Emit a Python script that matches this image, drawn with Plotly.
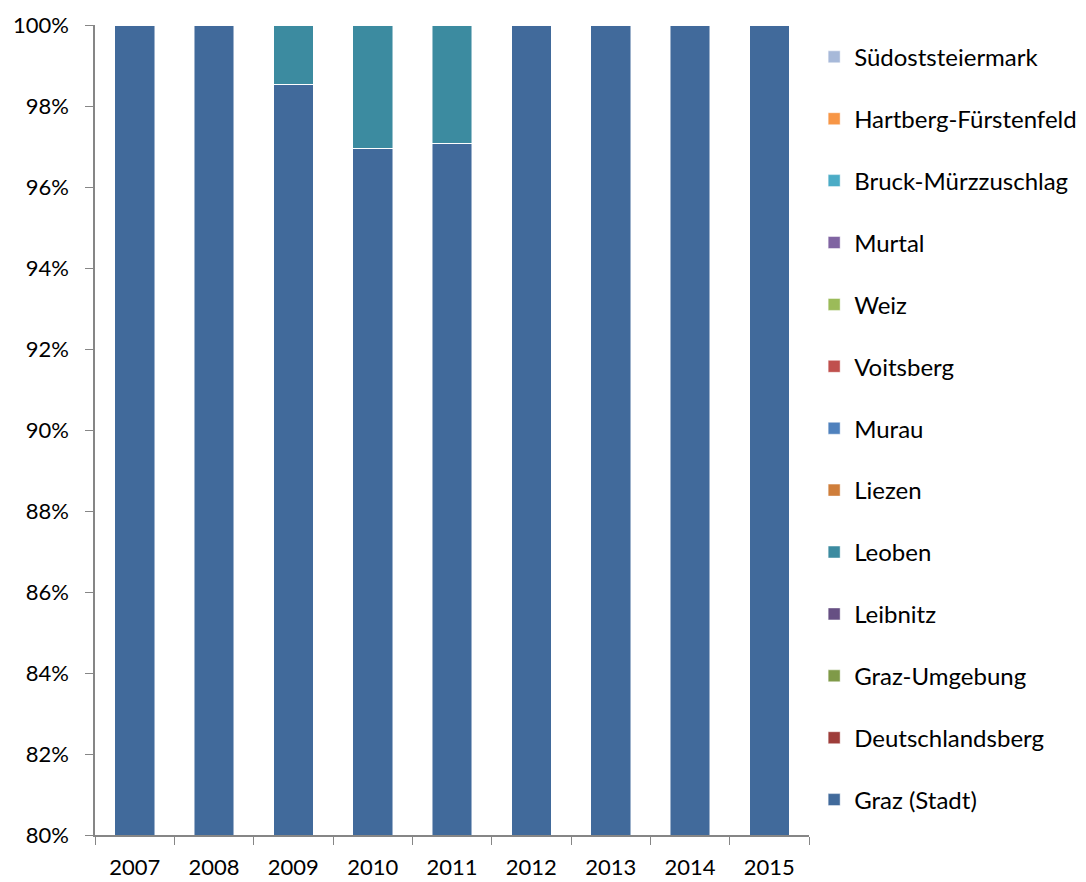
import plotly.graph_objects as go

years = ["2007", "2008", "2009", "2010", "2011", "2012", "2013", "2014", "2015"]

# series listed from bottom of stack to top
series_names = [
    "Graz (Stadt)", "Deutschlandsberg", "Graz-Umgebung", "Leibnitz", "Leoben",
    "Liezen", "Murau", "Voitsberg", "Weiz", "Murtal", "Bruck-Mürzzuschlag",
    "Hartberg-Fürstenfeld", "Südoststeiermark",
]
series_colors = [
    "#416A9B", "#9E3D3A", "#7F9A48", "#664F83", "#3C8BA0",
    "#CF7E3B", "#4F81BD", "#C0504D", "#9BBB59", "#8064A2", "#4BACC6",
    "#F79646", "#A7B9D9",
]

graz_stadt = [100, 100, 98.54, 96.96, 97.08, 100, 100, 100, 100]
deutschlandsberg = [0, 0, 0, 0, 0, 0, 0, 0, 0]
graz_umgebung = [0, 0, 0, 0, 0, 0, 0, 0, 0]
leibnitz = [0, 0, 0, 0, 0, 0, 0, 0, 0]
leoben = [0, 0, 1.46, 3.04, 2.92, 0, 0, 0, 0]
liezen = [0, 0, 0, 0, 0, 0, 0, 0, 0]
murau = [0, 0, 0, 0, 0, 0, 0, 0, 0]
voitsberg = [0, 0, 0, 0, 0, 0, 0, 0, 0]
weiz = [0, 0, 0, 0, 0, 0, 0, 0, 0]
murtal = [0, 0, 0, 0, 0, 0, 0, 0, 0]
bruck = [0, 0, 0, 0, 0, 0, 0, 0, 0]
hartberg = [0, 0, 0, 0, 0, 0, 0, 0, 0]
suedost = [0, 0, 0, 0, 0, 0, 0, 0, 0]

series_values = [graz_stadt, deutschlandsberg, graz_umgebung, leibnitz, leoben,
                 liezen, murau, voitsberg, weiz, murtal, bruck, hartberg, suedost]

y_ticks = [80, 82, 84, 86, 88, 90, 92, 94, 96, 98, 100]
y_tick_labels = [f"{v}%" for v in y_ticks]

fig = go.Figure()
for i, (name, vals, col) in enumerate(zip(series_names, series_values, series_colors)):
    fig.add_trace(go.Bar(
        x=years, y=vals, name=name, legendgroup=f"g{i}", legendrank=1000 - i,
        marker=dict(color=col, line=dict(color="rgba(255,255,255,0.6)", width=0.8)),
    ))

FONT = "Lato, Carlito, Calibri, sans-serif"
fig.update_layout(
    barmode="stack",
    bargap=0.5,
    width=1078, height=874,
    margin=dict(l=87, r=277, t=17, b=47, autoexpand=False),
    paper_bgcolor="white", plot_bgcolor="white",
    font=dict(family=FONT, size=22, color="black"),
    showlegend=True,
    legend=dict(
        tracegroupgap=27.7,
        x=1.0072, xanchor="left", xref="paper",
        y=0.988, yanchor="top",
        maxheight=1000,
        font=dict(family=FONT, size=24, color="black"),
        bgcolor="rgba(0,0,0,0)",
    ),
    xaxis=dict(
        type="category", range=[-0.5, 8.5], automargin=False,
        showline=True, linecolor="#868686", linewidth=1.5,
        ticks="outside", tickson="boundaries", ticklen=8, tickcolor="#868686",
        showgrid=False, zeroline=False, ticklabelstandoff=12,
        tickfont=dict(family=FONT, size=22, color="black"),
    ),
    yaxis=dict(
        range=[80, 100], tickmode="array", tickvals=y_ticks, ticktext=y_tick_labels,
        automargin=False,
        showline=True, linecolor="#868686", linewidth=1.5,
        ticks="outside", ticklen=8, tickcolor="#868686",
        showgrid=False, zeroline=False, ticklabelstandoff=12,
        tickfont=dict(family=FONT, size=22, color="black"),
    ),
)

fig.write_html("out.html")
